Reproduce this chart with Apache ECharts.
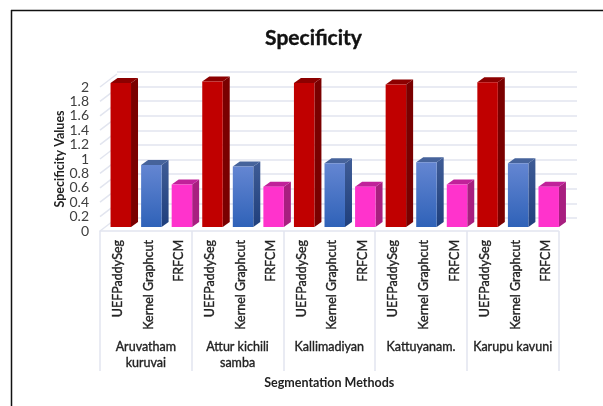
<!DOCTYPE html>
<html>
<head>
<meta charset="utf-8">
<style>html,body{margin:0;padding:0;background:#fff}#chart{width:603px;height:406px}</style>
<script src="https://cdn.jsdelivr.net/npm/echarts@6/dist/echarts.min.js"></script>
</head>
<body>
<div id="chart"></div>
<script>
// Paddy varieties and segmentation methods
const varieties = ['Aruvatham\nkuruvai', 'Attur kichili\nsamba', 'Kallimadiyan', 'Kattuyanam.', 'Karupu kavuni'];
const methods = ['UEFPaddySeg', 'Kernel Graphcut', 'FRFCM'];

// Specificity per variety, one list per method
const uefPaddySeg = [2.0, 2.02, 2.0, 1.98, 2.01];
const kernelGraphcut = [0.86, 0.84, 0.885, 0.9, 0.885];
const frfcm = [0.59, 0.56, 0.56, 0.59, 0.56];

const yTicks = [0, 0.2, 0.4, 0.6, 0.8, 1, 1.2, 1.4, 1.6, 1.8, 2];

const FONT = 'Lato, "Open Sans", sans-serif';
const TEXT = '#222';
const WALL = '#e2e5ef';

// One flat category per bar: each variety repeats the three methods
const barCategories = varieties.flatMap(() => methods);

function pts(method, list) {
  const k = methods.indexOf(method);
  return list.map((v, g) => [g * 3 + k, v]);
}

// Faces of an extruded column, projected up and to the right
function columnRenderer(colors) {
  return function (params, api) {
    const cat = api.value(0);
    const top = api.coord([cat, api.value(1)]);
    const base = api.coord([cat, 0]);
    const band = api.size([1, 0])[0];
    const half = band * 0.335;
    const shiftX = 5.5, shiftY = -4, depthX = 7, depthY = -5;
    const l = top[0] + shiftX - half, r = top[0] + shiftX + half;
    const t = top[1] + shiftY, b = base[1] + shiftY;
    return {
      type: 'group',
      children: [
        { type: 'polygon', shape: { points: [[r, t], [r + depthX, t + depthY], [r + depthX, b + depthY], [r, b]] }, style: { fill: colors.side } },
        { type: 'polygon', shape: { points: [[l, t], [l + depthX, t + depthY], [r + depthX, t + depthY], [r, t]] }, style: { fill: colors.top } },
        { type: 'rect', shape: { x: l, y: t, width: r - l, height: b - t }, style: { fill: colors.front } }
      ]
    };
  };
}

function vGrad(a, b) {
  return new echarts.graphic.LinearGradient(0, 0, 0, 1, [{ offset: 0, color: a }, { offset: 1, color: b }]);
}

function columnSeries(name, list, colors) {
  return {
    type: 'custom', name, xAxisIndex: 0, yAxisIndex: 0, z: 5,
    encode: { x: 0, y: 1 },
    data: pts(name, list),
    renderItem: columnRenderer(colors)
  };
}

const chart = echarts.init(document.getElementById('chart'), null, { renderer: 'canvas' });
chart.setOption({
  animation: false,
  backgroundColor: '#fff',
  title: {
    text: 'Specificity', left: 308.5, top: 23, textAlign: 'center',
    textStyle: { fontFamily: FONT, fontSize: 21, fontWeight: 'bold', color: '#111', textBorderColor: '#111', textBorderWidth: 0.4 }
  },
  grid: [
    { left: 100, right: 44.5, top: 87, bottom: 175 },
    { left: 117, right: 26, top: 72, bottom: 188 }
  ],
  xAxis: [
    {
      gridIndex: 0, type: 'category', data: barCategories,
      axisLine: { show: false }, axisTick: { show: false },
      axisLabel: { interval: 0, rotate: 90, margin: 9, lineHeight: 6, fontFamily: FONT, fontSize: 12.5, color: TEXT, align: 'right', verticalAlign: 'top', textBorderColor: TEXT, textBorderWidth: 0.35 }
    },
    {
      gridIndex: 0, type: 'category', data: varieties, position: 'bottom',
      axisLine: { show: true, lineStyle: { color: WALL, width: 1.5 } },
      axisTick: { show: true, length: 140, lineStyle: { color: WALL, width: 1.5 } },
      axisLabel: { interval: 0, margin: 108, fontFamily: FONT, fontSize: 12.5, color: TEXT, lineHeight: 16, verticalAlign: 'top', textBorderColor: TEXT, textBorderWidth: 0.35 },
      name: 'Segmentation Methods', nameLocation: 'middle', nameGap: 145,
      nameTextStyle: { fontFamily: FONT, fontSize: 12.5, fontWeight: 'bold', color: TEXT }
    },
    { gridIndex: 1, type: 'value', min: 0, max: 1, show: false }
  ],
  yAxis: [
    {
      gridIndex: 0, type: 'value', min: 0, max: 2, interval: 0.2,
      axisLine: { show: false }, axisTick: { show: false }, splitLine: { show: false },
      axisLabel: { margin: 11, fontFamily: FONT, fontSize: 14, color: '#404040' },
      name: 'Specificity Values', nameLocation: 'middle', nameGap: 34, nameMoveOverlap: false,
      nameTextStyle: { fontFamily: FONT, fontSize: 12.5, fontWeight: 'bold', color: TEXT }
    },
    {
      gridIndex: 1, type: 'value', min: 0, max: 2, interval: 0.2,
      axisLine: { show: false }, axisTick: { show: false }, axisLabel: { show: false },
      splitLine: { show: true, lineStyle: { color: WALL, width: 1.5 } }
    }
  ],
  series: [
    // Left wall: a diagonal from each tick back to the rear gridline
    {
      type: 'custom', xAxisIndex: 0, yAxisIndex: 0, z: 1, silent: true,
      encode: { y: 0 },
      data: yTicks.map(v => [v]),
      renderItem(params, api) {
        const band = api.size([1, 0])[0];
        const p = api.coord([0, api.value(0)]);
        const x = p[0] - band / 2;
        return {
          type: 'line',
          shape: { x1: x, y1: p[1], x2: x + 17, y2: p[1] - 13 },
          style: { stroke: WALL, lineWidth: 1.5 }
        };
      }
    },
    columnSeries('UEFPaddySeg', uefPaddySeg, { front: '#c00000', top: '#8c0000', side: '#7a0000' }),
    columnSeries('Kernel Graphcut', kernelGraphcut, { front: vGrad('#6486d2', '#2f62b8'), top: '#46639b', side: vGrad('#3f5c96', '#1f3f7c') }),
    columnSeries('FRFCM', frfcm, { front: '#ff33cc', top: '#c0229a', side: '#a81f80' })
  ],
  graphic: [
    { type: 'line', shape: { x1: 11, y1: 10.5, x2: 603, y2: 10.5 }, style: { stroke: '#111', lineWidth: 1.5 } },
    { type: 'line', shape: { x1: 11.5, y1: 10, x2: 11.5, y2: 406 }, style: { stroke: '#111', lineWidth: 1.5 } }
  ]
});
</script>
</body>
</html>
